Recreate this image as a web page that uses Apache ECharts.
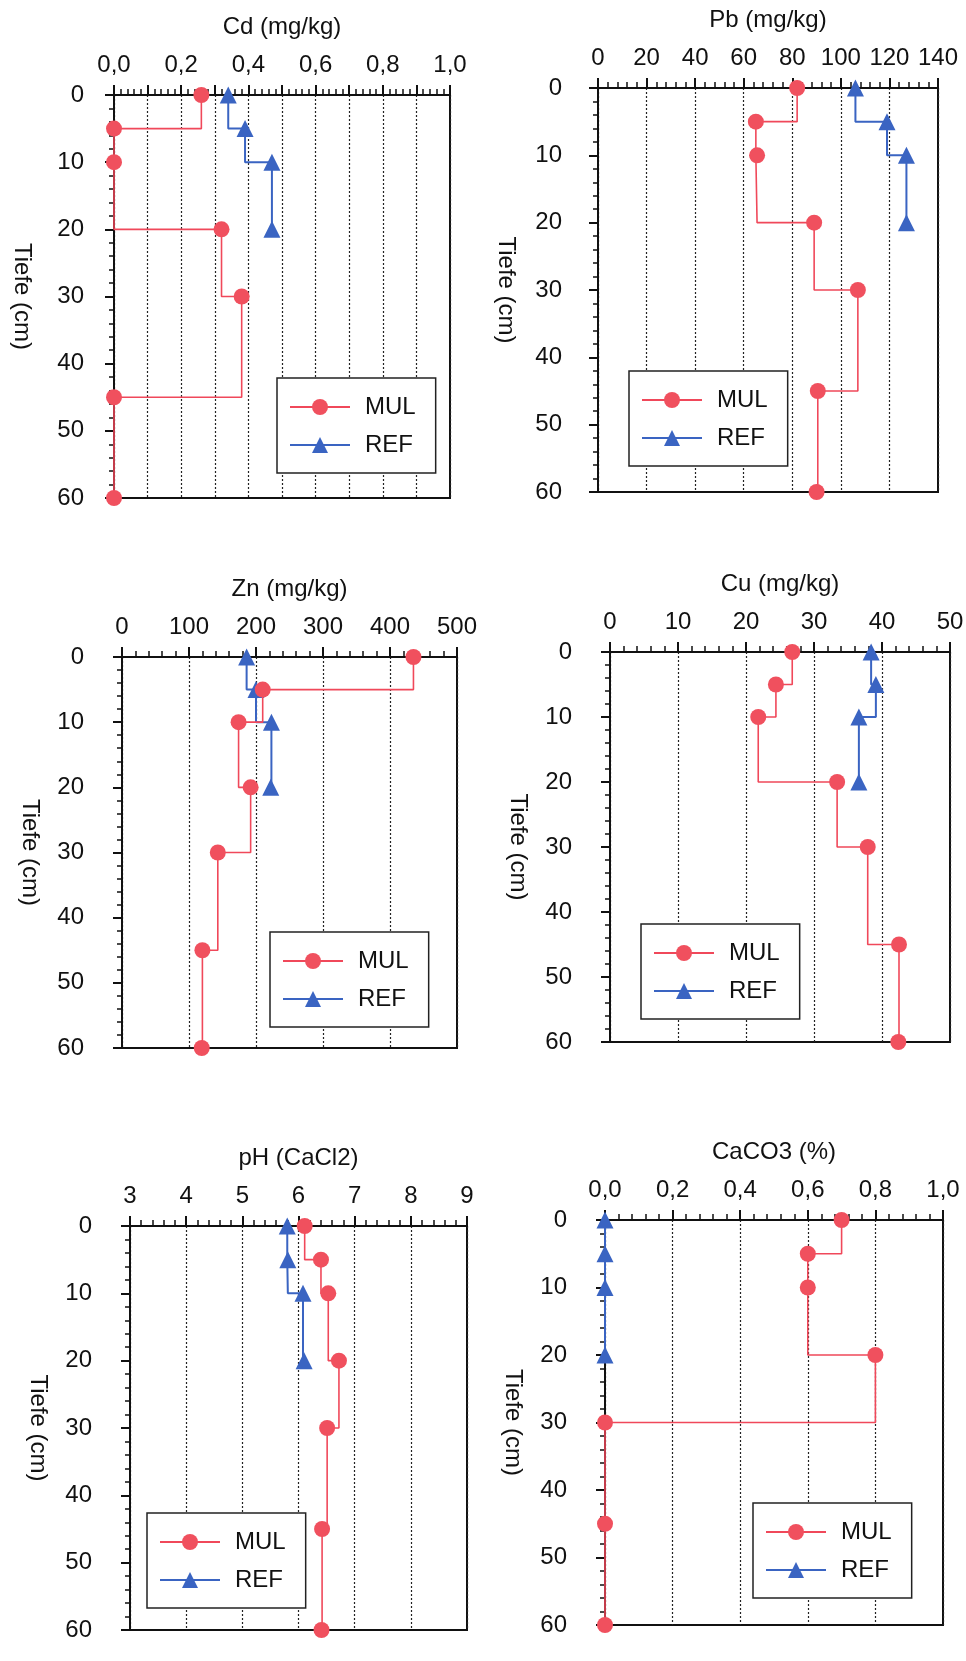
<!DOCTYPE html>
<html>
<head>
<meta charset="utf-8">
<script src="https://cdn.jsdelivr.net/npm/echarts@6/dist/echarts.min.js"></script>
<style>
  html, body { margin: 0; padding: 0; background: #fff; }
  #chart { width: 966px; height: 1661px; }
</style>
</head>
<body>
<div id="chart"></div>
<script>
// depths (cm)
const depthMUL = [0, 5, 10, 20, 30, 45, 60]
const depthREF = [0, 5, 10, 20]

// values
const cdMUL = [0.26, 0.0, 0.0, 0.32, 0.38, 0.0, 0.0]
const cdREF = [0.34, 0.39, 0.47, 0.47]
const pbMUL = [82, 65, 65.5, 89, 107, 90.5, 90]
const pbREF = [106, 119, 127, 127]
const znMUL = [435, 210, 174, 192, 143, 120, 119]
const znREF = [186, 200, 223, 222]
const cuMUL = [26.8, 24.4, 21.8, 33.4, 37.9, 42.5, 42.4]
const cuREF = [38.4, 39.1, 36.6, 36.6]
const phMUL = [6.11, 6.4, 6.53, 6.72, 6.51, 6.42, 6.41]
const phREF = [5.8, 5.81, 6.08, 6.1]
const caMUL = [0.7, 0.6, 0.6, 0.8, 0.0, 0.0, 0.0]
const caREF = [0.0, 0.0, 0.0, 0.0]

const panels = [
  { title: 'Cd (mg/kg)', min: 0, max: 1, interval: 0.1, labelEvery: 2, decimals: 1, mul: cdMUL, ref: cdREF,
    grid: { left: 114, top: 95, width: 336, height: 403 }, legend: { left: 277, top: 378 }, yMargin: 30 },
  { title: 'Pb (mg/kg)', min: 0, max: 140, interval: 20, labelEvery: 1, decimals: 0, mul: pbMUL, ref: pbREF,
    grid: { left: 598, top: 88, width: 340, height: 404 }, legend: { left: 629, top: 371 }, yMargin: 36 },
  { title: 'Zn (mg/kg)', min: 0, max: 500, interval: 100, labelEvery: 1, decimals: 0, mul: znMUL, ref: znREF,
    grid: { left: 122, top: 657, width: 335, height: 391 }, legend: { left: 270, top: 932 }, yMargin: 38 },
  { title: 'Cu (mg/kg)', min: 0, max: 50, interval: 10, labelEvery: 1, decimals: 0, mul: cuMUL, ref: cuREF,
    grid: { left: 610, top: 652, width: 340, height: 390 }, legend: { left: 641, top: 924 }, yMargin: 38 },
  { title: 'pH (CaCl2)', min: 3, max: 9, interval: 1, labelEvery: 1, decimals: 0, mul: phMUL, ref: phREF,
    grid: { left: 130, top: 1226, width: 337, height: 404 }, legend: { left: 147, top: 1513 }, yMargin: 38 },
  { title: 'CaCO3 (%)', min: 0, max: 1, interval: 0.2, labelEvery: 1, decimals: 1, mul: caMUL, ref: caREF,
    grid: { left: 605, top: 1220, width: 338, height: 405 }, legend: { left: 753, top: 1503 }, yMargin: 38 }
]

const FONT = 'Liberation Sans, Arial, sans-serif'
const RED = '#f0505e'
const RED_LINE = '#f0485a'
const BLUE = '#3a64c2'

const grids = []
const xAxes = []
const yAxes = []
const legends = []
const series = []

panels.forEach((p, i) => {
  grids.push({
    ...p.grid,
    show: true,
    borderColor: '#111',
    borderWidth: 2,
    backgroundColor: 'transparent',
    outerBoundsMode: 'none',
    containLabel: false
  })

  xAxes.push({
    gridIndex: i,
    type: 'value',
    position: 'top',
    min: p.min,
    max: p.max,
    interval: p.interval,
    name: p.title,
    nameLocation: 'middle',
    nameGap: 56,
    nameTextStyle: { fontFamily: FONT, fontSize: 24, color: '#111' },
    axisLine: { show: true, lineStyle: { color: '#111', width: 2 } },
    axisTick: { show: true, inside: false, length: 10, lineStyle: { color: '#111', width: 2 } },
    minorTick: { show: true, splitNumber: 5, length: 6, lineStyle: { color: '#111', width: 1.5 } },
    axisLabel: {
      fontFamily: FONT,
      fontSize: 24,
      color: '#111',
      margin: 18,
      formatter: (v) => {
        const k = Math.round((v - p.min) / p.interval)
        if (k % p.labelEvery !== 0) return ''
        return v.toFixed(p.decimals).replace('.', ',')
      }
    },
    splitLine: { show: true, lineStyle: { color: '#222', width: 1.2, type: [2, 2] } }
  })

  yAxes.push({
    gridIndex: i,
    type: 'value',
    inverse: true,
    min: 0,
    max: 60,
    interval: 10,
    name: 'Tiefe (cm)',
    nameLocation: 'middle',
    nameRotate: -90,
    nameGap: 80,
    nameTextStyle: { fontFamily: FONT, fontSize: 24, color: '#111' },
    axisLine: { show: true, lineStyle: { color: '#111', width: 2 } },
    axisTick: { show: true, length: 9, lineStyle: { color: '#111', width: 2 } },
    minorTick: { show: true, splitNumber: 5, length: 5, lineStyle: { color: '#111', width: 1.5 } },
    axisLabel: { fontFamily: FONT, fontSize: 24, color: '#111', margin: p.yMargin },
    splitLine: { show: false }
  })

  legends.push({
    data: ['MUL', 'REF'],
    orient: 'vertical',
    left: p.legend.left,
    top: p.legend.top,
    padding: [17, 20, 16, 12],
    itemGap: 14,
    itemWidth: 60,
    itemHeight: 20,
    borderColor: '#222',
    borderWidth: 1.5,
    backgroundColor: '#fff',
    selectedMode: false,
    textStyle: { fontFamily: FONT, fontSize: 24, color: '#111', padding: [0, 0, 0, 10] }
  })

  series.push({
    name: 'MUL',
    type: 'line',
    xAxisIndex: i,
    yAxisIndex: i,
    step: 'start',
    data: depthMUL.map((d, j) => [p.mul[j], d]),
    symbol: 'circle',
    symbolSize: 16,
    z: 3,
    lineStyle: { color: RED_LINE, width: 1.6 },
    itemStyle: { color: RED },
    animation: false
  })

  series.push({
    name: 'REF',
    type: 'line',
    xAxisIndex: i,
    yAxisIndex: i,
    step: 'start',
    data: depthREF.map((d, j) => [p.ref[j], d]),
    symbol: 'triangle',
    symbolSize: 17,
    z: 2,
    lineStyle: { color: BLUE, width: 2 },
    itemStyle: { color: BLUE },
    animation: false
  })
})

const chart = echarts.init(document.getElementById('chart'), null, { renderer: 'canvas' })
chart.setOption({
  backgroundColor: '#fff',
  animation: false,
  grid: grids,
  xAxis: xAxes,
  yAxis: yAxes,
  legend: legends,
  series: series
})
</script>
</body>
</html>
